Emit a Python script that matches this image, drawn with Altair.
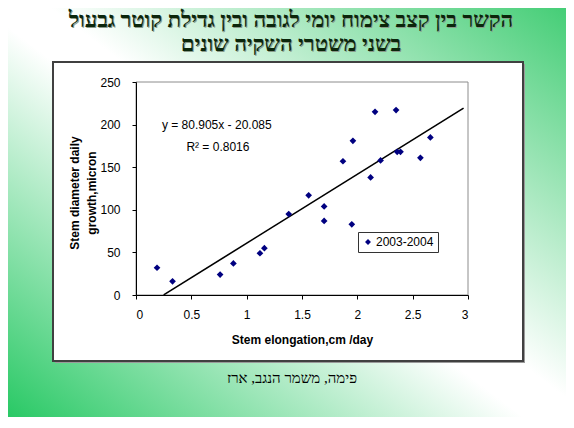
import altair as alt
import pandas as pd

# ---------------- data ----------------
elongation = [0.19, 0.33, 0.76, 0.88, 1.12, 1.16, 1.38, 1.56, 1.70, 1.70, 1.87,
              1.96, 1.95, 2.12, 2.16, 2.21, 2.35, 2.36, 2.39, 2.57, 2.66]
diameter = [32, 16, 24, 37, 49, 55, 95, 117, 104, 87, 157,
            181, 83, 138, 215, 158, 217, 168, 168, 161, 185]
series_name = "2003-2004"
trend_x = [0.25, 2.96]
trend_y = [0.1, 219.4]
x_ticks = [0, 0.5, 1, 1.5, 2, 2.5, 3]
y_ticks = [0, 50, 100, 150, 200, 250]
title_lines = ["הקשר בין קצב צימוח יומי לגובה ובין גדילת קוטר גבעול",
               "בשני משטרי השקיה שונים"]
footer_text = "פימה, משמר הנגב, ארז"
eq_text = ["y = 80.905x - 20.085", "R² = 0.8016"]
eq_x = [0.73, 0.74]
eq_y = [200, 174]
x_title = "Stem elongation,cm /day"
y_title_lines = ["Stem diameter daily", "growth,micron"]

W, H = 332, 213
one = pd.DataFrame({"k": [0]})

pts = pd.DataFrame({"x": elongation, "y": diameter, "series": [series_name] * len(elongation)})
trend = pd.DataFrame({"x": trend_x, "y": trend_y})
eq = pd.DataFrame({"x": eq_x, "y": eq_y, "t": eq_text})

grad = alt.LinearGradient(
    gradient="linear",
    stops=[alt.GradientStop(color="#3fcc72", offset=0),
           alt.GradientStop(color="#ffffff", offset=0.47),
           alt.GradientStop(color="#ffffff", offset=0.53),
           alt.GradientStop(color="#22c760", offset=1)],
    x1=1, y1=0, x2=0, y2=1)

bg = alt.Chart(one).mark_rect(fill=grad).encode(
    x=alt.value(-130), x2=alt.value(436), y=alt.value(-82), y2=alt.value(346))

shadow = alt.Chart(one).mark_rect(fill="#9a9a9a").encode(
    x=alt.value(-81), x2=alt.value(389), y=alt.value(-18), y2=alt.value(281))
box = alt.Chart(one).mark_rect(fill="white", stroke="#404040", strokeWidth=2).encode(
    x=alt.value(-83), x2=alt.value(387), y=alt.value(-20), y2=alt.value(279))

frame = alt.Chart(one).mark_rect(fillOpacity=0, stroke="#8c8c8c", strokeWidth=1).encode(
    x=alt.value(0), x2=alt.value(W), y=alt.value(0), y2=alt.value(H))

x_enc = alt.X("x:Q", scale=alt.Scale(domain=[0, 3], nice=False),
              axis=alt.Axis(values=x_ticks, format="~g", title=x_title, grid=False,
                            domainColor="black", tickColor="black", tickSize=4,
                            labelPadding=10, labelFont="Liberation Sans", labelFontSize=12,
                            labelColor="black", titleFont="Liberation Sans", titleFontSize=12,
                            titleFontWeight="bold", titleColor="black", titlePadding=14,
                            zindex=1))
y_enc = alt.Y("y:Q", scale=alt.Scale(domain=[0, 250], nice=False),
              axis=alt.Axis(values=y_ticks, title=None, grid=False,
                            domainColor="black", tickColor="black", tickSize=4,
                            labelPadding=12, labelFont="Liberation Sans", labelFontSize=12,
                            labelColor="black", zindex=1))

line = alt.Chart(trend).mark_line(color="black", strokeWidth=1.6).encode(x=x_enc, y=y_enc)

points = alt.Chart(pts).mark_point(shape="diamond", filled=True, size=45, opacity=1).encode(
    x=x_enc, y=y_enc,
    color=alt.Color("series:N", scale=alt.Scale(range=["#000080"]),
                    legend=alt.Legend(orient="none", legendX=222, legendY=150, title=None,
                                      strokeColor="#333333", fillColor="white", padding=4,
                                      labelFont="Liberation Sans", labelFontSize=12,
                                      labelColor="black", symbolType="diamond", symbolSize=35,
                                      labelOffset=2, zindex=1)))

eq_layer = alt.Chart(eq).mark_text(font="Liberation Sans", fontSize=12, color="black",
                                   align="center", baseline="middle").encode(
    x="x:Q", y="y:Q", text="t:N")

def txt(s, x, y, **kw):
    return alt.Chart(pd.DataFrame({"t": [s]})).mark_text(**kw).encode(
        x=alt.value(x), y=alt.value(y), text="t:N")

title_kw = dict(font="Liberation Serif", fontSize=22, fontWeight="bold",
                align="center", baseline="middle")
titles = []
for i, s in enumerate(title_lines):
    yy = -62 + i * 24
    titles.append(txt(s, 156, yy + 1, color="#8a9a8a", **title_kw))
    titles.append(txt(s, 155, yy, color="#0b260b", **title_kw))

ytitle = [txt(s, -61 + i * 17, 111, font="Liberation Sans", fontSize=12, fontWeight="bold",
              color="black", angle=270, align="center", baseline="middle")
          for i, s in enumerate(y_title_lines)]

footer = txt(footer_text, 156, 296, font="Liberation Serif", fontSize=15, color="black",
             align="center", baseline="middle")

chart = alt.layer(bg, shadow, box, frame, line, points, eq_layer, *titles, *ytitle, footer).properties(
    width=W, height=H,
    autosize=alt.AutoSizeParams(type="none"),
    padding={"left": 128, "top": 74, "right": 98, "bottom": 122},
).configure_view(stroke=None)

chart.save("out.html", embed_options={"renderer": "svg", "actions": False})
